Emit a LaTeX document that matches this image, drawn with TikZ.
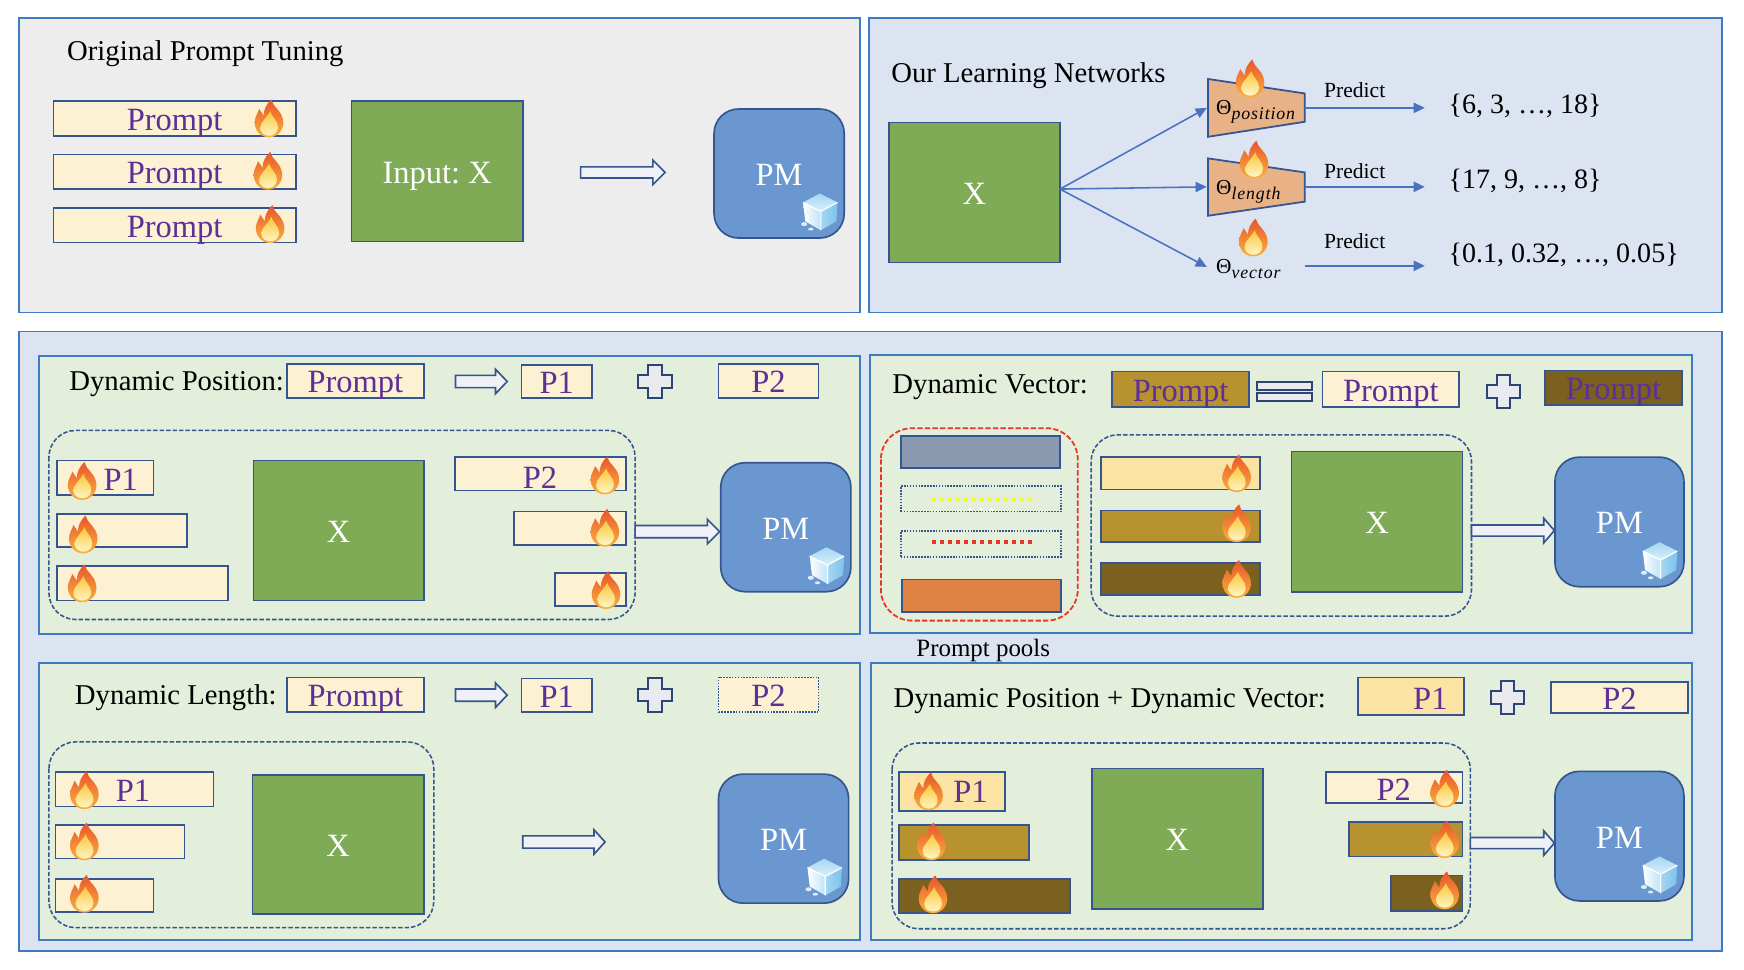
\documentclass[tikz,border=0pt]{standalone}
\usepackage{fontspec}
\usetikzlibrary{arrows.meta}
\setmainfont{Liberation Serif}
\newfontfamily\subfont[LetterSpace=5]{Liberation Serif}
\definecolor{panelblue}{HTML}{3D7CC4}
\definecolor{greyfill}{HTML}{EDEDED}
\definecolor{bluefill}{HTML}{DCE4F1}
\definecolor{greenfill}{HTML}{E3EFDA}
\definecolor{edge}{HTML}{34558F}
\definecolor{cream}{HTML}{FCF1D2}
\definecolor{gold}{HTML}{FBE3A3}
\definecolor{brownA}{HTML}{B7922F}
\definecolor{brownB}{HTML}{7A611F}
\definecolor{purpletext}{HTML}{5E2F96}
\definecolor{xgreen}{HTML}{7FAB57}
\definecolor{pmblue}{HTML}{6A97CF}
\definecolor{trapfill}{HTML}{E9B286}
\definecolor{flow}{HTML}{4A72C0}
\definecolor{hollow}{HTML}{EFF1F6}
\definecolor{plusfill}{HTML}{E8EAF0}
\definecolor{plusedge}{HTML}{2E4474}
\definecolor{poolgrey}{HTML}{8A98B0}
\definecolor{poolorange}{HTML}{DF8344}
\definecolor{pooldash}{HTML}{E8352A}
\definecolor{pooly}{HTML}{F9F93A}
\definecolor{flameA}{HTML}{E9552B}
\definecolor{flameB}{HTML}{F2842B}
\definecolor{flameC}{HTML}{F9B23E}
\definecolor{flameD}{HTML}{FBC63A}
\definecolor{flameE}{HTML}{FFF5C4}
\definecolor{iceA}{HTML}{BFE3F7}
\definecolor{iceB}{HTML}{7CC3EC}
\definecolor{iceC}{HTML}{A5D6F2}
\definecolor{iceD}{HTML}{D9F0FB}
\tikzset{
  panel/.style={draw=panelblue,line width=.8pt},
  sized/.style={inner sep=0pt,outer sep=0pt,draw=edge,line width=.75pt},
  ptxt/.style={text=purpletext,font=\fontsize{14.6}{16}\selectfont,text height=10.8pt,text depth=0pt,inner sep=0pt},
  wtxt/.style={text=white,font=\fontsize{14.6}{16}\selectfont,text height=10.8pt,text depth=0pt,inner sep=0pt},
  ttl/.style={font=\fontsize{12.9}{14}\selectfont,text height=8.4pt,text depth=0pt,inner sep=0pt,anchor=west},
  predtxt/.style={font=\fontsize{9.7}{11}\selectfont,text height=6.4pt,text depth=0pt,inner sep=0pt},
  valtxt/.style={font=\fontsize{12.6}{14}\selectfont,text height=8.2pt,text depth=0pt,inner sep=0pt,anchor=west},
  thetatxt/.style={font=\fontsize{9.6}{10}\selectfont,text height=6pt,text depth=0pt,inner sep=0pt,anchor=west},
  flowline/.style={draw=flow,line width=.7pt,-{Triangle[length=5pt,width=4.6pt]}},
  dashbox/.style={draw=edge,line width=.7pt,dash pattern=on 2pt off .9pt,rounded corners=12pt},
  reddash/.style={draw=pooldash,line width=.8pt,dash pattern=on 2.4pt off 1pt,rounded corners=14pt},
  dotbox/.style={dash pattern=on .7pt off .6pt},
  blockarr/.style={draw=edge,fill=hollow,line width=.75pt},
  plusshape/.style={draw=plusedge,fill=plusfill,line width=.9pt},
  pics/flame/.style={code={
    \shade[top color=flameA,middle color=flameB,bottom color=flameC]
      (2,-17.5) .. controls (3,-11) and (11,-8) .. (12.5,1)
      .. controls (14,10) and (7,16.5) .. (0,16.5)
      .. controls (-8,16.5) and (-13,10) .. (-13,3)
      .. controls (-13,-2) and (-10,-5) .. (-9,-9)
      .. controls (-7,-6) and (-6,-5) .. (-5,-3)
      .. controls (-5,-8) and (-3,-13) .. (2,-17.5) -- cycle;
    \shade[top color=flameD,bottom color=flameE]
      (1,-7) .. controls (2,-2) and (8.5,2) .. (8,8)
      .. controls (7.5,12.5) and (4,15) .. (0,15)
      .. controls (-4,15) and (-8,12.5) .. (-8,8)
      .. controls (-8,3) and (-3,0) .. (1,-7) -- cycle;
  }},
  pics/icecube/.style={code={
    \shade[left color=white,right color=iceA]
      (-15,-8) -- (1,0) -- (1,17) -- (-13,9) -- cycle;
    \shade[left color=iceC,right color=iceB]
      (1,0) -- (16,-8) -- (15,9) -- (1,17) -- cycle;
    \shade[top color=iceC,bottom color=iceD]
      (0,-16) -- (16,-8) -- (1,0) -- (-15,-8) -- cycle;
    \draw[white,line width=.5pt] (1,0) -- (1,17) (1,0) -- (-15,-8) (1,0) -- (16,-8);
    \fill[iceD] (-14,11.5) ellipse (2.8 and 1.8);
    \fill[iceD] (-8,16) ellipse (2.4 and 1.3);
  }},
}
\newcommand{\rbox}[7]{% name, style, x1,y1,x2,y2, text
  \node[sized,#2,minimum width={(#5-#3)*0.5pt},minimum height={(#6-#4)*0.5pt}] (#1) at ({(#3+#5)/2},{(#4+#6)/2}) {#7};}
\newcommand{\flm}[2]{\pic at (#1,#2) {flame};}
\newcommand{\blockarrow}[5]{% x1, headbase, x2, yc, halfbody
  \draw[blockarr] (#1,#4-#5) -- (#2,#4-#5) -- (#2,#4-11) -- (#3,#4) -- (#2,#4+11) -- (#2,#4+#5) -- (#1,#4+#5) -- cycle;}
\newcommand{\plussign}[2]{%
  \draw[plusshape] (#1-6,#2-15) -- (#1+6,#2-15) -- (#1+6,#2-5.5) -- (#1+15,#2-5.5) -- (#1+15,#2+5.5) -- (#1+6,#2+5.5) -- (#1+6,#2+15) -- (#1-6,#2+15) -- (#1-6,#2+5.5) -- (#1-15,#2+5.5) -- (#1-15,#2-5.5) -- (#1-6,#2-5.5) -- cycle;}
\newcommand{\pmbox}[5]{%
  \node[sized,fill=pmblue,rounded corners=11pt,minimum width={(#4-#2)*0.5pt},minimum height={(#5-#3)*0.5pt},wtxt] (#1) at ({(#2+#4)/2},{(#3+#5)/2}) {PM};
  \pic at (#4-22,#5-24) {icecube};}
\begin{document}
\frenchspacing
\begin{tikzpicture}[x=.5pt,y=-.5pt]
\useasboundingbox (0,0) rectangle (1568,872);
% panels
\node[panel,fill=greyfill,inner sep=0pt,minimum width=378pt,minimum height=132.5pt] (ptop1) at (395,148.5) {};
\node[panel,fill=bluefill,inner sep=0pt,minimum width=383.5pt,minimum height=132.5pt] (ptop2) at (1164.5,148.5) {};
\node[panel,fill=bluefill,inner sep=0pt,minimum width=765.5pt,minimum height=278.5pt] (pbottom) at (782.5,576.5) {};
\node[panel,fill=greenfill,inner sep=0pt,minimum width=369pt,minimum height=125pt] (sub1) at (404,445) {};
\node[panel,fill=greenfill,inner sep=0pt,minimum width=369.5pt,minimum height=125pt] (sub2) at (1151.5,444) {};
\node[panel,fill=greenfill,inner sep=0pt,minimum width=369pt,minimum height=124.5pt] (sub3) at (404,720.5) {};
\node[panel,fill=greenfill,inner sep=0pt,minimum width=369pt,minimum height=124.5pt] (sub4) at (1152,720.5) {};

% ---------- Original Prompt Tuning
\node[ttl] (t1) at (60,46) {Original Prompt Tuning};
\rbox{a1}{fill=cream,ptxt}{48}{91}{266}{122}{Prompt}
\rbox{a2}{fill=cream,ptxt}{48}{139}{266}{170}{Prompt}
\rbox{a3}{fill=cream,ptxt}{48}{187}{266}{218}{Prompt}
\rbox{ax}{fill=xgreen,wtxt}{316}{91}{470}{217}{Input: X}
\blockarrow{522}{587}{598}{155}{5}
\pmbox{apm}{642}{98}{759}{214}
\flm{242}{107}\flm{241}{154}\flm{243}{202}

% ---------- Our Learning Networks
\node[ttl] (t2) at (801,66) {Our Learning Networks};
\rbox{bx}{fill=xgreen,wtxt}{799}{110}{953}{236}{X}
\coordinate (bout) at (953,170);
\draw[draw=edge,fill=trapfill,line width=.8pt] (1086,71) -- (1173,84) -- (1173,109.5) -- (1086,123) -- cycle;
\draw[draw=edge,fill=trapfill,line width=.8pt] (1086,142.4) -- (1173,155) -- (1173,181.3) -- (1086,194) -- cycle;
\coordinate (t1in) at (1085,97);
\coordinate (t1out) at (1173,97);
\coordinate (t2in) at (1085,168);
\coordinate (t2out) at (1173,168);
\coordinate (t3in) at (1085,240);
\coordinate (t3out) at (1173,239);
\coordinate (v1) at (1281,97);
\coordinate (v2) at (1281,168);
\coordinate (v3) at (1281,239);
\node[thetatxt] (th1) at (1093,97) {Θ\raisebox{-2.4pt}{\fontsize{8}{9}\selectfont\subfont\itshape position}};
\node[thetatxt] (th2) at (1093,169) {Θ\raisebox{-2.4pt}{\fontsize{8}{9}\selectfont\subfont\itshape length}};
\node[thetatxt] (th3) at (1093,240) {Θ\raisebox{-2.4pt}{\fontsize{8}{9}\selectfont\subfont\itshape vector}};
\draw[flowline] (bout) -- (t1in);
\draw[flowline] (bout) -- (t2in);
\draw[flowline] (bout) -- (t3in);
\draw[flowline] (t1out) -- (v1);
\draw[flowline] (t2out) -- (v2);
\draw[flowline] (t3out) -- (v3);
\node[predtxt] (pr1) at (1218,81) {Predict};
\node[predtxt] (pr2) at (1218,154) {Predict};
\node[predtxt] (pr3) at (1218,217) {Predict};
\node[valtxt] (val1) at (1302,94) {\{6, 3, …, 18\}};
\node[valtxt] (val2) at (1302,161) {\{17, 9, …, 8\}};
\node[valtxt] (val3) at (1302,228) {\{0.1, 0.32, …, 0.05\}};
\flm{1124}{71}\flm{1127.6}{144}\flm{1127}{214}

% ---------- Dynamic Position
\node[ttl] (t3) at (62,343) {Dynamic Position:};
\rbox{c0}{fill=cream,ptxt}{258}{327}{381}{358}{Prompt}
\blockarrow{409.5}{445.5}{456}{343}{5.5}
\rbox{c1}{fill=cream,ptxt}{469}{328}{532}{358}{P1}
\plussign{589}{343}
\rbox{c2}{fill=cream,ptxt}{646}{327}{736}{358}{P2}
\draw[dashbox] (44,387) rectangle (571,557);
\rbox{c3}{fill=cream}{51}{414}{138}{445}{}
\node[ptxt] (c3t) at (108.5,430) {P1};
\rbox{c4}{fill=cream}{51}{462}{168}{492}{}
\rbox{c5}{fill=cream}{51}{509}{205}{540}{}
\rbox{cx}{fill=xgreen,wtxt}{228}{414}{381}{540}{X}
\rbox{c6}{fill=cream}{409}{411}{563}{441}{}
\node[ptxt] (c6t) at (485.5,428) {P2};
\rbox{c7}{fill=cream}{462}{460}{563}{490}{}
\rbox{c8}{fill=cream}{499}{515}{563}{545}{}
\blockarrow{571}{636}{647}{478}{5.5}
\pmbox{cpm}{648}{416}{765}{532}
\flm{74}{433}\flm{75}{481}\flm{74}{525}\flm{544}{428}\flm{544}{475}\flm{545}{531}

% ---------- Dynamic Vector
\node[ttl] (t4) at (802,345) {Dynamic Vector:};
\rbox{d0}{fill=brownA,ptxt}{1000}{334}{1123}{366}{Prompt}
\draw[plusshape] (1130,343) rectangle (1180,350.6);
\draw[plusshape] (1130,353.7) rectangle (1180,360.5);
\rbox{d1}{fill=cream,ptxt}{1189}{334}{1312}{366}{Prompt}
\plussign{1351.5}{352}
\rbox{d2}{fill=brownB,ptxt}{1389}{333}{1512}{364}{Prompt}
\draw[reddash] (792,385) rectangle (969,558);
\rbox{d3}{fill=poolgrey}{810}{392}{953}{421}{}
\rbox{d4}{dotbox,fill=greenfill}{810}{437}{954}{460}{}
\draw[pooly,line width=1.8pt,dash pattern=on 1.8pt off 1.8pt] (838,448.5) -- (929,448.5);
\foreach \px in {872,882,891.5}{\fill[white] (\px,458) circle (1.6);}
\rbox{d5}{dotbox,fill=greenfill}{810}{477.5}{954}{500.5}{}
\draw[pooldash,line width=1.8pt,dash pattern=on 1.8pt off 1.8pt] (838,487) -- (929,487);
\rbox{d6}{fill=poolorange}{811}{521}{954}{550}{}
\draw[dashbox] (981,391) rectangle (1323,554);
\rbox{d7}{fill=gold}{990}{411}{1133}{440}{}
\rbox{d8}{fill=brownA}{990}{459}{1133}{487.5}{}
\rbox{d9}{fill=brownB}{990}{506}{1133}{535}{}
\rbox{dx}{fill=xgreen,wtxt}{1161}{406}{1315}{532.5}{X}
\blockarrow{1323}{1388}{1397.5}{477}{5}
\pmbox{dpm}{1398}{411}{1514}{527.5}
\flm{1112}{426}\flm{1112}{471}\flm{1112}{521}
\node[font=\fontsize{11.2}{13}\selectfont,text height=7.4pt,text depth=0pt,inner sep=0pt] (poolslabel) at (884,582.5) {Prompt pools};

% ---------- Dynamic Length
\node[ttl] (t5) at (67,625) {Dynamic Length:};
\rbox{e0}{fill=cream,ptxt}{258}{609}{381}{640}{Prompt}
\blockarrow{409.5}{445.5}{456}{625}{5.5}
\rbox{e1}{fill=cream,ptxt}{469}{610}{532}{640}{P1}
\plussign{589}{625}
\rbox{e2}{fill=cream,ptxt,dotbox}{646}{609}{736}{640}{P2}
\draw[dashbox] (44,667) rectangle (390,834);
\rbox{e3}{fill=cream}{50}{694}{192}{725}{}
\node[ptxt] (e3t) at (119.5,710) {P1};
\rbox{e4}{fill=cream}{50}{742}{166}{772}{}
\rbox{e5}{fill=cream}{50}{790}{138}{820}{}
\rbox{ex}{fill=xgreen,wtxt}{227}{697}{381}{822}{X}
\blockarrow{470}{534}{544}{757}{5.5}
\pmbox{epm}{646}{696}{763}{812}
\flm{76}{711}\flm{76}{757}\flm{76}{804}

% ---------- Dynamic Position + Dynamic Vector
\node[ttl] (t6) at (803,628) {Dynamic Position + Dynamic Vector:};
\rbox{f0}{fill=gold}{1221}{609}{1316}{643}{}
\node[ptxt] (f0t) at (1286,627) {P1};
\plussign{1355.5}{627}
\rbox{f1}{fill=cream,ptxt}{1394.5}{613}{1517.5}{641}{P2}
\draw[dashbox] (802,668) rectangle (1322,835);
\rbox{f2}{fill=gold}{808}{694}{903.5}{729}{}
\node[ptxt] (f2t) at (872.5,711) {P1};
\rbox{f3}{fill=brownA}{808}{742}{925}{773}{}
\rbox{f4}{fill=brownB}{808}{790}{962}{821}{}
\rbox{fx}{fill=xgreen,wtxt}{981.5}{691}{1135.5}{817.5}{X}
\rbox{f5}{fill=cream}{1192}{694}{1315}{722}{}
\node[ptxt] (f5t) at (1253,708.5) {P2};
\rbox{f6}{fill=brownA}{1213}{739}{1315}{770}{}
\rbox{f7}{fill=brownB}{1250.5}{787}{1315}{819}{}
\blockarrow{1322}{1388}{1397.5}{758}{5}
\pmbox{fpm}{1398}{693.5}{1514}{810}
\flm{835}{712}\flm{837.5}{757}\flm{839}{804.5}\flm{1299}{709.5}\flm{1299}{755}\flm{1299}{801}
\end{tikzpicture}
\end{document}
